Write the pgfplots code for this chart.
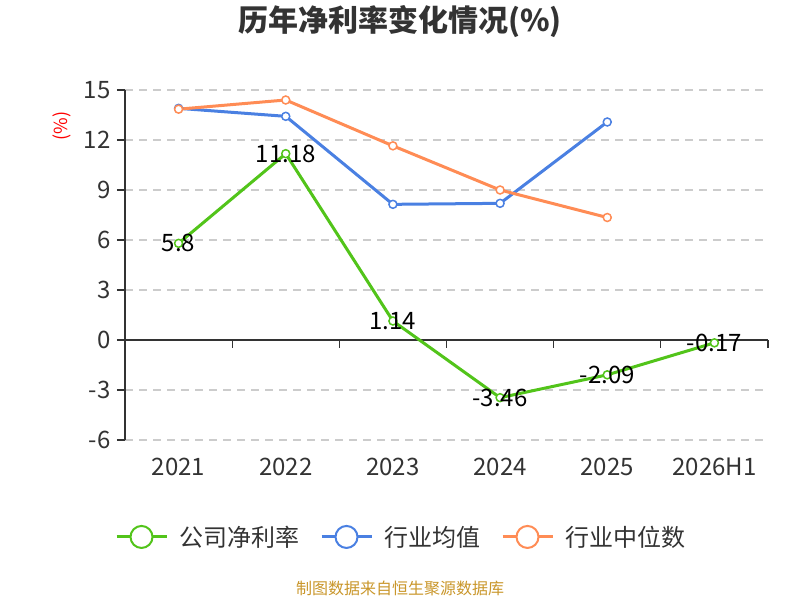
\documentclass[border=0pt]{standalone}
\usepackage{pgfplots}
\pgfplotsset{compat=1.18}
\usepackage{fontspec}
\setmainfont{Noto Sans CJK SC}
\definecolor{cgreen}{HTML}{52C41A}
\definecolor{cblue}{HTML}{4A80E2}
\definecolor{corange}{HTML}{FF8C55}
\definecolor{txt}{HTML}{333333}
\definecolor{src}{HTML}{C9962A}
\definecolor{gridc}{HTML}{CCCCCC}
\begin{document}
\begin{tikzpicture}
\path[use as bounding box] (0pt,0pt) rectangle (800pt,600pt);
\node[text=txt, font=\fontsize{30}{34}\selectfont\bfseries] at (400pt,578pt) {历年净利率变化情况(\%)};
\node[text=red, rotate=90, font=\fontsize{18}{20}\selectfont] at (62pt,474pt) {(\%)};
\node[text=src, font=\fontsize{16}{18}\selectfont] at (400pt,12pt) {制图数据来自恒生聚源数据库};
\begin{axis}[
  at={(125pt,160pt)}, anchor=south west,
  scale only axis, width=643pt, height=350pt,
  xmin=-0.5, xmax=5.5, ymin=-6, ymax=15,
  ytick={-6,-3,0,3,6,9,12,15},
  xtick={0,1,2,3,4,5},
  xticklabels={2021,2022,2023,2024,2025,2026H1},
  axis lines*=left,
  x axis line style={draw=none},
  y axis line style={draw=txt, line width=1.2pt},
  xtick style={draw=none},
  ytick style={draw=txt, line width=1.2pt},
  tick align=outside,
  major tick length=8pt,
  ymajorgrids,
  grid style={gridc, line width=1.2pt, dash pattern=on 8pt off 6pt},
  /pgf/number format/assume math mode=true,
  tick label style={text=txt, font=\fontsize{24}{28}\selectfont},
  xticklabel style={anchor=center, yshift=-19pt},
  yticklabel style={anchor=east, xshift=-3pt},
  clip=false,
  legend columns=3,
  legend style={at={(0.4277,-0.277)}, anchor=center, draw=none, fill=none,
    font=\fontsize{24}{28}\selectfont, text=txt,
    nodes={inner sep=0pt},
    /tikz/every even column/.append style={column sep=21pt},
    /tikz/every odd column/.append style={column sep=0pt}},
  legend cell align=left,
  legend image code/.code={
    \draw[#1, mark=none] (0pt,0pt) -- (50pt,0pt);
    \draw[#1, mark=none, fill=white, line width=2pt] (25pt,0pt) circle (11pt);
    \path (61pt,0pt);
  },
]
\draw[txt, line width=1.2pt] (axis cs:-0.5,0) -- (axis cs:5.5,0);
\pgfplotsinvokeforeach{-0.5,0.5,1.5,2.5,3.5,4.5,5.5}{
  \draw[txt, line width=1.2pt] (axis cs:#1,0) -- ++(0pt,-8pt);
}
\addplot[cgreen, line width=3pt, mark=*, mark size=4pt,
  mark options={fill=white, draw=cgreen, line width=1.5pt},
  point meta=explicit symbolic, nodes near coords,
  every node near coord/.append style={anchor=center, text=black, font=\fontsize{24}{28}\selectfont}]
  coordinates {(0,5.8)[5.8] (1,11.18)[11.18] (2,1.14)[1.14] (3,-3.46)[-3.46] (4,-2.09)[-2.09] (5,-0.17)[-0.17]};
\addlegendentry{公司净利率}
\addplot[cblue, line width=3pt, mark=*, mark size=4pt,
  mark options={fill=white, draw=cblue, line width=1.5pt}]
  coordinates {(0,13.9) (1,13.42) (2,8.14) (3,8.2) (4,13.08)};
\addlegendentry{行业均值}
\addplot[corange, line width=3pt, mark=*, mark size=4pt,
  mark options={fill=white, draw=corange, line width=1.5pt}]
  coordinates {(0,13.85) (1,14.4) (2,11.65) (3,9.0) (4,7.35)};
\addlegendentry{行业中位数}
\end{axis}
\end{tikzpicture}
\end{document}
